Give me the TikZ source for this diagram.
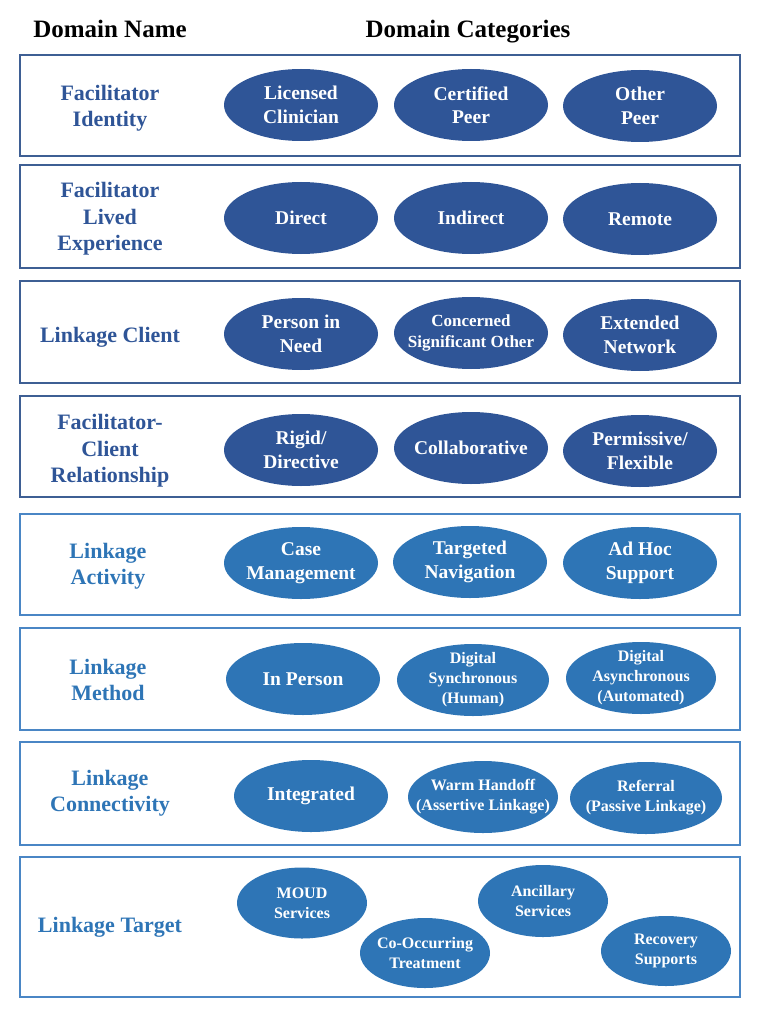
\documentclass[tikz,border=0pt]{standalone}
\usepackage{fontspec}
\setmainfont{Liberation Serif}
\newfontfamily\bfx{Liberation Serif Bold}
\usetikzlibrary{shapes.geometric}
\definecolor{dkblue}{HTML}{2F5597}
\definecolor{ltblue}{HTML}{2E75B6}
\definecolor{dkborder}{HTML}{3E5F94}
\definecolor{ltborder}{HTML}{4A86C5}
\begin{document}
\begin{tikzpicture}[x=1pt,y=-1pt,
  rowbox/.style={draw=#1, line width=1.6pt, rectangle, inner sep=0pt, minimum width=720pt},
  cat/.style={ellipse, fill=#1, text=white, inner xsep=-40pt, inner ysep=-15pt, align=center,
    minimum width=154pt, minimum height=72pt, font=\bfx\fontsize{19.5}{23.5}\selectfont},
  small/.style={font=\bfx\fontsize{16}{20}\selectfont},
  lab/.style={text=#1, align=center, font=\bfx\fontsize{22}{26.5}\selectfont},
  head/.style={anchor=base, font=\bfx\fontsize{25}{29}\selectfont}]
\useasboundingbox (0,0) rectangle (762,1016);
% headers
\node[head] (h1) at (110,38) {Domain Name};
\node[head] (h2) at (468,38) {Domain Categories};
% row boxes
\node[rowbox=dkborder, minimum height=101pt] (b1) at (380,105.5) {};
\node[rowbox=dkborder, minimum height=103pt] (b2) at (380,216.5) {};
\node[rowbox=dkborder, minimum height=102pt] (b3) at (380,332) {};
\node[rowbox=dkborder, minimum height=101pt] (b4) at (380,446.5) {};
\node[rowbox=ltborder, minimum height=101pt] (b5) at (380,564.5) {};
\node[rowbox=ltborder, minimum height=102pt] (b6) at (380,679) {};
\node[rowbox=ltborder, minimum height=103pt] (b7) at (380,793.5) {};
\node[rowbox=ltborder, minimum height=140pt] (b8) at (380,927) {};
% labels
\node[lab=dkblue] (l1) at (110,108) {Facilitator\\Identity};
\node[lab=dkblue] (l2) at (110,219) {Facilitator\\Lived\\Experience};
\node[lab=dkblue] (l3) at (110,337) {Linkage Client};
\node[lab=dkblue] (l4) at (110,451) {Facilitator-\\Client\\Relationship};
\node[lab=ltblue] (l5) at (108,566) {Linkage\\Activity};
\node[lab=ltblue] (l6) at (108,680) {Linkage\\Method};
\node[lab=ltblue] (l7) at (110,793) {Linkage\\Connectivity};
\node[lab=ltblue] (l8) at (110,927) {Linkage Target};
% row 1
\node[cat=dkblue] (c11) at (301,105) {Licensed\\Clinician};
\node[cat=dkblue] (c12) at (471,105) {Certified\\Peer};
\node[cat=dkblue] (c13) at (640,106) {Other\\Peer};
% row 2
\node[cat=dkblue] (c21) at (301,218) {Direct};
\node[cat=dkblue] (c22) at (471,218) {Indirect};
\node[cat=dkblue] (c23) at (640,219) {Remote};
% row 3
\node[cat=dkblue] (c31) at (301,334) {Person in\\Need};
\node[cat=dkblue, font=\bfx\fontsize{17}{20.5}\selectfont] (c32) at (471,333) {Concerned\\Significant Other};
\node[cat=dkblue] (c33) at (640,335) {Extended\\Network};
% row 4
\node[cat=dkblue] (c41) at (301,450) {Rigid/\\Directive};
\node[cat=dkblue] (c42) at (471,448) {Collaborative};
\node[cat=dkblue] (c43) at (640,451) {Permissive/\\Flexible};
% row 5
\node[cat=ltblue] (c51) at (301,563) {Case\\Management};
\node[cat=ltblue] (c52) at (470,562) {Targeted\\Navigation};
\node[cat=ltblue] (c53) at (640,563) {Ad Hoc\\Support};
% row 6
\node[cat=ltblue] (c61) at (303,679) {In Person};
\node[cat=ltblue, small, minimum width=152pt] (c62) at (473,680) {Digital\\Synchronous\\(Human)};
\node[cat=ltblue, small, minimum width=150pt] (c63) at (641,678) {Digital\\Asynchronous\\(Automated)};
% row 7
\node[cat=ltblue] (c71) at (311,796) {Integrated};
\node[cat=ltblue, small, minimum width=150pt] (c72) at (483,797) {Warm Handoff\\(Assertive Linkage)};
\node[cat=ltblue, small, minimum width=152pt] (c73) at (646,798) {Referral\\(Passive Linkage)};
% row 8
\node[cat=ltblue, small, minimum width=130pt, minimum height=71pt] (c81) at (302,903) {MOUD\\Services};
\node[cat=ltblue, small, minimum width=130pt, minimum height=70pt] (c82) at (425,953) {Co-Occurring\\Treatment};
\node[cat=ltblue, small, minimum width=130pt, minimum height=72pt] (c83) at (543,901) {Ancillary\\Services};
\node[cat=ltblue, small, minimum width=130pt, minimum height=70pt] (c84) at (666,951) {Recovery\\Supports};
\end{tikzpicture}
\end{document}
